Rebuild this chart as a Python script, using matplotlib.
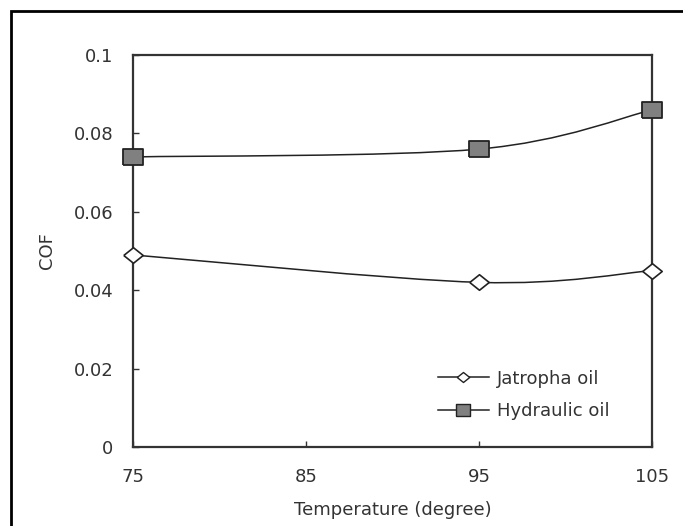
import numpy as np
import matplotlib
matplotlib.use("Agg")
import matplotlib.pyplot as plt
from matplotlib.path import Path
from matplotlib.patches import PathPatch, Rectangle
from matplotlib.lines import Line2D

plt.rcParams['font.family'] = ['DejaVu Sans']

# data
temperature = [75, 95, 105]
jatropha = [0.049, 0.042, 0.045]
hydraulic = [0.074, 0.076, 0.086]
x_ticks = [75, 85, 95, 105]
y_ticks = [0, 0.02, 0.04, 0.06, 0.08, 0.1]
y_tick_labels = ['0', '0.02', '0.04', '0.06', '0.08', '0.1']

TXT = '#333333'
LINE = '#222222'
# the source is a bit stretched sideways, so the markers are too
wide_square = [(-1.25, -1), (1.25, -1), (1.25, 1), (-1.25, 1), (-1.25, -1)]
wide_diamond = [(-1.25, 0), (0, 1), (1.25, 0), (0, -1), (-1.25, 0)]


def smooth_path(xs, ys):
    # Excel-style smoothed line: cubic Bezier through the points
    pts = np.column_stack([xs, ys]).astype(float)
    n = len(pts)
    verts = [pts[0]]
    codes = [Path.MOVETO]
    for i in range(n - 1):
        p0 = pts[max(i - 1, 0)]
        p1 = pts[i]
        p2 = pts[i + 1]
        p3 = pts[min(i + 2, n - 1)]
        c1 = p1 + (p2 - p0) / 6
        c2 = p2 - (p3 - p1) / 6
        verts += [c1, c2, p2]
        codes += [Path.CURVE4] * 3
    return Path(verts, codes)


fig = plt.figure(figsize=(6.83, 5.26), dpi=100)
ax = fig.add_axes([0.1947, 0.1502, 0.7599, 0.7452])

# outer frame around the figure (cut off at right and bottom)
fig.patches.append(Rectangle((11 / 683, -0.05), 1.2, 1 - 11 / 526 + 0.05,
                             transform=fig.transFigure, fill=False,
                             edgecolor='black', linewidth=2, zorder=0))

for ys in (jatropha, hydraulic):
    ax.add_patch(PathPatch(smooth_path(temperature, ys), facecolor='none',
                           edgecolor=LINE, linewidth=1.1, zorder=2))

ax.plot(temperature, jatropha, linestyle='none', marker=wide_diamond, markersize=14,
        markerfacecolor='white', markeredgecolor=LINE, markeredgewidth=1.2,
        zorder=3, clip_on=False)
ax.plot(temperature, hydraulic, linestyle='none', marker=wide_square, markersize=14.5,
        markerfacecolor='#808080', markeredgecolor=LINE, markeredgewidth=1.3,
        zorder=3, clip_on=False)

handles = [
    Line2D([], [], color=LINE, lw=1.1, marker=wide_diamond, markersize=9,
           markerfacecolor='white', markeredgecolor=LINE),
    Line2D([], [], color=LINE, lw=1.1, marker=wide_square, markersize=10,
           markerfacecolor='#808080', markeredgecolor=LINE),
]
leg = ax.legend(handles, ['Jatropha oil', 'Hydraulic oil'], loc='upper left',
                bbox_to_anchor=(0.588, 0.197), frameon=False, fontsize=13,
                borderaxespad=0, borderpad=0,
                handlelength=2.8, handletextpad=0.45, labelspacing=0.78,
                labelcolor=TXT)

ax.set_xlim(75, 105)
ax.set_ylim(0, 0.1)
ax.set_xticks(x_ticks)
ax.set_xticklabels([str(t) for t in x_ticks])
ax.set_yticks(y_ticks)
ax.set_yticklabels(y_tick_labels)

ax.tick_params(direction='in', length=4, width=1, color=TXT,
               labelsize=13, labelcolor=TXT)
ax.tick_params(axis='y', pad=14)
ax.tick_params(axis='x', pad=15)
for s in ax.spines.values():
    s.set_linewidth(1.6)
    s.set_color(TXT)

ax.set_xlabel('Temperature (degree)', fontsize=13, color=TXT, labelpad=11)
ax.set_ylabel('COF', fontsize=13, color=TXT, labelpad=13)

fig.savefig('out.png', dpi=100)
